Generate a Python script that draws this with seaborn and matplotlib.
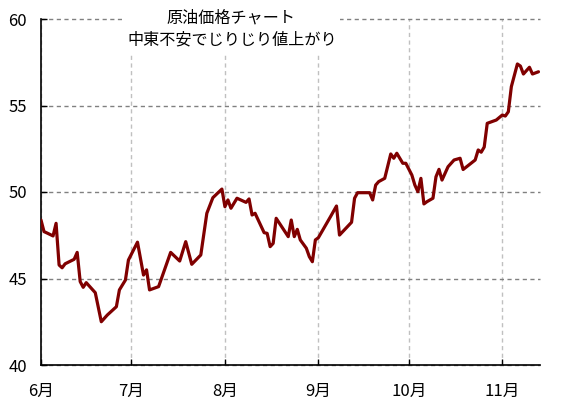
import matplotlib
matplotlib.use("Agg")
import matplotlib.pyplot as plt
import matplotlib.dates as mdates
import matplotlib.patches as mpatches
from matplotlib.ticker import FuncFormatter
import seaborn as sns
import pandas as pd

# ---- data ----
dates = [
    "06-01", "06-02", "06-03", "06-05", "06-06", "06-07", "06-08", "06-09", "06-12", "06-13",
    "06-14", "06-15", "06-16", "06-19", "06-21", "06-23", "06-26", "06-27", "06-29", "06-30",
    "07-03", "07-05", "07-06", "07-07", "07-10", "07-14", "07-17", "07-19", "07-21", "07-24",
    "07-26", "07-28", "07-31", "08-01", "08-02", "08-03", "08-05", "08-08", "08-09", "08-10",
    "08-11", "08-14", "08-15", "08-16", "08-17", "08-18", "08-22", "08-23", "08-24", "08-25",
    "08-26", "08-28", "08-29", "08-30", "08-31", "09-01", "09-05", "09-07", "09-08", "09-12",
    "09-13", "09-14", "09-18", "09-19", "09-20", "09-21", "09-23", "09-25", "09-26", "09-27",
    "09-29", "09-30", "10-02", "10-03", "10-04", "10-05", "10-06", "10-07", "10-09", "10-10",
    "10-11", "10-12", "10-14", "10-16", "10-18", "10-19", "10-23", "10-24", "10-25", "10-26",
    "10-27", "10-30", "11-01", "11-02", "11-03", "11-04", "11-06", "11-07", "11-08", "11-10",
    "11-11", "11-13",
]
prices = [
    48.38, 47.71, 47.63, 47.46, 48.19, 45.78, 45.62, 45.85, 46.11, 46.51,
    44.82, 44.49, 44.76, 44.18, 42.50, 42.89, 43.37, 44.34, 44.91, 46.07,
    47.10, 45.20, 45.50, 44.34, 44.53, 46.51, 46.01, 47.13, 45.82, 46.36,
    48.77, 49.67, 50.17, 49.15, 49.54, 49.06, 49.64, 49.40, 49.60, 48.67,
    48.77, 47.65, 47.61, 46.84, 47.03, 48.48, 47.42, 48.38, 47.42, 47.84,
    47.23, 46.75, 46.26, 45.97, 47.23, 47.36, 48.57, 49.19, 47.51, 48.25,
    49.64, 49.96, 49.96, 49.54, 50.40, 50.60, 50.79, 52.20, 51.95, 52.24,
    51.66, 51.66, 50.98, 50.40, 50.02, 50.79, 49.31, 49.44, 49.64, 50.88,
    51.31, 50.69, 51.46, 51.85, 51.95, 51.30, 51.85, 52.43, 52.30, 52.60,
    53.97, 54.16, 54.45, 54.39, 54.64, 56.09, 57.40, 57.28, 56.82, 57.21,
    56.82, 56.95,
]
year = "2004"
title_lines = ["原油価格チャート", "中東不安でじりじり値上がり"]
y_ticks = [40, 45, 50, 55, 60]

df = pd.DataFrame({"date": pd.to_datetime([f"{year}-{d}" for d in dates]),
                   "price": prices})

sns.set_style("white")
plt.rcParams["font.family"] = ["Noto Sans CJK JP", "DejaVu Sans"]

W, H = 567, 409
fig = plt.figure(figsize=(W / 100, H / 100), dpi=100)
ax = fig.add_axes([41 / W, 1 - 365 / H, (540 - 41) / W, (365 - 19) / H])

sns.lineplot(data=df, x="date", y="price", ax=ax, color="#800000",
             linewidth=2.3, zorder=3)

ax.set_ylim(40, 60)
ax.set_yticks(y_ticks)
x0 = pd.Timestamp(f"{year}-06-01")
ax.set_xlim(x0, x0 + pd.Timedelta(days=165.5))
ax.xaxis.set_major_locator(mdates.MonthLocator())
ax.xaxis.set_major_formatter(
    FuncFormatter(lambda v, p: f"{mdates.num2date(v).month}月"))

ax.set_xlabel("")
ax.set_ylabel("")

for s in ["top", "right"]:
    ax.spines[s].set_visible(False)
for s in ["left", "bottom"]:
    ax.spines[s].set_color("black")
    ax.spines[s].set_linewidth(1.2)

ax.tick_params(axis="both", direction="in", length=4, width=1.0,
               colors="black", labelsize=12)
ax.tick_params(axis="x", pad=13)
ax.tick_params(axis="y", pad=10)
ax.tick_params(left=True, bottom=True)

ax.yaxis.grid(True, color="#808080", linestyle=(0, (3, 2.5)), linewidth=1.0)
ax.xaxis.grid(True, color="#c0c0c0", linestyle=(0, (3, 2.5)), linewidth=1.0)
ax.set_axisbelow(True)
for gl in ax.get_ygridlines():
    gl.set_clip_on(False)

# white box behind the title text
rect = mpatches.Rectangle((122 / W, 1 - 55 / H), (340 - 122) / W, 55 / H,
                          transform=fig.transFigure, facecolor="white",
                          edgecolor="none", zorder=5)
fig.add_artist(rect)
fig.text(231 / W, 1 - 18 / H, title_lines[0], ha="center", va="center",
         fontsize=11.6, color="black", zorder=6)
fig.text(232 / W, 1 - 40 / H, title_lines[1], ha="center", va="center",
         fontsize=11.6, color="black", zorder=6)

fig.savefig("out.png", dpi=100)
